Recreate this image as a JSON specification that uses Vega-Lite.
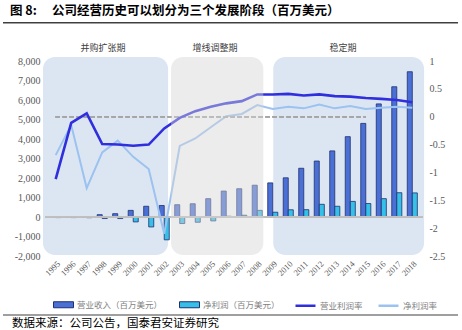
{
  "$schema": "https://vega.github.io/schema/vega-lite/v6.json",
  "width": 378,
  "height": 195,
  "autosize": {"type": "none"},
  "padding": {"left": 45, "top": 61, "right": 39, "bottom": 74},
  "background": "white",
  "title": {"text": "图 8:　 公司经营历史可以划分为三个发展阶段（百万美元）", "anchor": "start", "frame": "group", "dx": -35, "offset": 5, "font": "Noto Sans CJK SC", "fontSize": 12.5, "fontWeight": "bold", "color": "#000000"},
  "config": {
    "locale": {"number": {"decimal": ".", "thousands": ",", "grouping": [3], "currency": ["$", ""], "minus": "-"}},
    "view": {"stroke": null},
    "axis": {"grid": false, "ticks": false, "domain": false, "labelFont": "Liberation Serif", "labelColor": "#595959", "labelFontSize": 10, "title": null}
  },
  "datasets": {
    "phases": [
      {"phase": "并购扩张期", "kind": "blue", "start": 1994.18, "end": 2002.25, "mid": 1998.05},
      {"phase": "增线调整期", "kind": "gray", "start": 2002.44, "end": 2008.39, "mid": 2005.27},
      {"phase": "稳定期", "kind": "blue", "start": 2009.03, "end": 2018.76, "mid": 2013.53}
    ],
    "bars": [
      {"year": "1995", "series": "营业收入（百万美元）", "value": 20}, {"year": "1995", "series": "净利润（百万美元）", "value": -30},
      {"year": "1996", "series": "营业收入（百万美元）", "value": 25}, {"year": "1996", "series": "净利润（百万美元）", "value": -30},
      {"year": "1997", "series": "营业收入（百万美元）", "value": 25}, {"year": "1997", "series": "净利润（百万美元）", "value": -35},
      {"year": "1998", "series": "营业收入（百万美元）", "value": 120}, {"year": "1998", "series": "净利润（百万美元）", "value": -80},
      {"year": "1999", "series": "营业收入（百万美元）", "value": 170}, {"year": "1999", "series": "净利润（百万美元）", "value": -80},
      {"year": "2000", "series": "营业收入（百万美元）", "value": 340}, {"year": "2000", "series": "净利润（百万美元）", "value": -250},
      {"year": "2001", "series": "营业收入（百万美元）", "value": 550}, {"year": "2001", "series": "净利润（百万美元）", "value": -510},
      {"year": "2002", "series": "营业收入（百万美元）", "value": 590}, {"year": "2002", "series": "净利润（百万美元）", "value": -1170},
      {"year": "2003", "series": "营业收入（百万美元）", "value": 630}, {"year": "2003", "series": "净利润（百万美元）", "value": -335},
      {"year": "2004", "series": "营业收入（百万美元）", "value": 680}, {"year": "2004", "series": "净利润（百万美元）", "value": -270},
      {"year": "2005", "series": "营业收入（百万美元）", "value": 940}, {"year": "2005", "series": "净利润（百万美元）", "value": -200},
      {"year": "2006", "series": "营业收入（百万美元）", "value": 1330}, {"year": "2006", "series": "净利润（百万美元）", "value": 40},
      {"year": "2007", "series": "营业收入（百万美元）", "value": 1450}, {"year": "2007", "series": "净利润（百万美元）", "value": 90},
      {"year": "2008", "series": "营业收入（百万美元）", "value": 1630}, {"year": "2008", "series": "净利润（百万美元）", "value": 340},
      {"year": "2009", "series": "营业收入（百万美元）", "value": 1750}, {"year": "2009", "series": "净利润（百万美元）", "value": 245},
      {"year": "2010", "series": "营业收入（百万美元）", "value": 2010}, {"year": "2010", "series": "净利润（百万美元）", "value": 370},
      {"year": "2011", "series": "营业收入（百万美元）", "value": 2500}, {"year": "2011", "series": "净利润（百万美元）", "value": 376},
      {"year": "2012", "series": "营业收入（百万美元）", "value": 2870}, {"year": "2012", "series": "净利润（百万美元）", "value": 650},
      {"year": "2013", "series": "营业收入（百万美元）", "value": 3390}, {"year": "2013", "series": "净利润（百万美元）", "value": 550},
      {"year": "2014", "series": "营业收入（百万美元）", "value": 4120}, {"year": "2014", "series": "净利润（百万美元）", "value": 800},
      {"year": "2015", "series": "营业收入（百万美元）", "value": 4800}, {"year": "2015", "series": "净利润（百万美元）", "value": 690},
      {"year": "2016", "series": "营业收入（百万美元）", "value": 5800}, {"year": "2016", "series": "净利润（百万美元）", "value": 940},
      {"year": "2017", "series": "营业收入（百万美元）", "value": 6680}, {"year": "2017", "series": "净利润（百万美元）", "value": 1245},
      {"year": "2018", "series": "营业收入（百万美元）", "value": 7450}, {"year": "2018", "series": "净利润（百万美元）", "value": 1235}
    ],
    "margins": [
      {"year": "1995", "series": "营业利润率", "value": -1.12}, {"year": "1995", "series": "净利润率", "value": -0.69},
      {"year": "1996", "series": "营业利润率", "value": -0.11}, {"year": "1996", "series": "净利润率", "value": -0.15},
      {"year": "1997", "series": "营业利润率", "value": 0.06}, {"year": "1997", "series": "净利润率", "value": -1.28},
      {"year": "1998", "series": "营业利润率", "value": -0.49}, {"year": "1998", "series": "净利润率", "value": -0.64},
      {"year": "1999", "series": "营业利润率", "value": -0.5}, {"year": "1999", "series": "净利润率", "value": -0.43},
      {"year": "2000", "series": "营业利润率", "value": -0.52}, {"year": "2000", "series": "净利润率", "value": -0.72},
      {"year": "2001", "series": "营业利润率", "value": -0.5}, {"year": "2001", "series": "净利润率", "value": -0.94},
      {"year": "2002", "series": "营业利润率", "value": -0.21}, {"year": "2002", "series": "净利润率", "value": -2.1},
      {"year": "2003", "series": "营业利润率", "value": -0.02}, {"year": "2003", "series": "净利润率", "value": -0.525},
      {"year": "2004", "series": "营业利润率", "value": 0.1}, {"year": "2004", "series": "净利润率", "value": -0.39},
      {"year": "2005", "series": "营业利润率", "value": 0.18}, {"year": "2005", "series": "净利润率", "value": -0.19},
      {"year": "2006", "series": "营业利润率", "value": 0.24}, {"year": "2006", "series": "净利润率", "value": 0.01},
      {"year": "2007", "series": "营业利润率", "value": 0.28}, {"year": "2007", "series": "净利润率", "value": 0.05},
      {"year": "2008", "series": "营业利润率", "value": 0.4}, {"year": "2008", "series": "净利润率", "value": 0.21},
      {"year": "2009", "series": "营业利润率", "value": 0.4}, {"year": "2009", "series": "净利润率", "value": 0.14},
      {"year": "2010", "series": "营业利润率", "value": 0.41}, {"year": "2010", "series": "净利润率", "value": 0.18},
      {"year": "2011", "series": "营业利润率", "value": 0.38}, {"year": "2011", "series": "净利润率", "value": 0.15},
      {"year": "2012", "series": "营业利润率", "value": 0.4}, {"year": "2012", "series": "净利润率", "value": 0.22},
      {"year": "2013", "series": "营业利润率", "value": 0.37}, {"year": "2013", "series": "净利润率", "value": 0.15},
      {"year": "2014", "series": "营业利润率", "value": 0.36}, {"year": "2014", "series": "净利润率", "value": 0.19},
      {"year": "2015", "series": "营业利润率", "value": 0.335}, {"year": "2015", "series": "净利润率", "value": 0.14},
      {"year": "2016", "series": "营业利润率", "value": 0.32}, {"year": "2016", "series": "净利润率", "value": 0.16},
      {"year": "2017", "series": "营业利润率", "value": 0.3}, {"year": "2017", "series": "净利润率", "value": 0.18},
      {"year": "2018", "series": "营业利润率", "value": 0.26}, {"year": "2018", "series": "净利润率", "value": 0.16}
    ]
  },
  "layer": [
    {
      "data": {"name": "phases"},
      "layer": [
        {
          "transform": [{"filter": "datum.kind === 'blue'"}],
          "mark": {"type": "rect", "cornerRadius": 12, "color": "#DCE6F2"},
          "encoding": {
            "x": {"field": "start", "type": "quantitative", "scale": {"domain": [1994.31, 2018.69], "nice": false, "zero": false}, "axis": null},
            "x2": {"field": "end"},
            "y": {"datum": 0.005, "type": "quantitative", "scale": {"domain": [0, 1], "nice": false, "zero": false}, "axis": null},
            "y2": {"datum": 1.02}
          }
        },
        {
          "mark": {"type": "text", "font": "Noto Sans CJK SC", "fontSize": 9, "color": "#404040", "baseline": "middle"},
          "encoding": {
            "x": {"field": "mid", "type": "quantitative", "scale": {"domain": [1994.31, 2018.69], "nice": false, "zero": false}, "axis": null},
            "y": {"datum": 1.065, "type": "quantitative", "scale": {"domain": [0, 1], "nice": false, "zero": false}, "axis": null},
            "text": {"field": "phase"}
          }
        }
      ]
    },
    {
      "data": {"name": "bars"},
      "layer": [
        {
          "mark": {"type": "bar", "stroke": "#1F2F6F", "strokeWidth": 0.8},
          "encoding": {
            "x": {"field": "year", "type": "ordinal", "scale": {"paddingInner": 0.35, "paddingOuter": 0.365},
                  "axis": {"orient": "bottom", "labelAngle": -45, "labelAlign": "right", "labelBaseline": "top", "labelPadding": 3, "labelFontSize": 8.5}},
            "xOffset": {"field": "series", "sort": ["营业收入（百万美元）", "净利润（百万美元）"]},
            "y": {"field": "value", "type": "quantitative", "scale": {"domain": [-2000, 8000], "nice": false},
                  "axis": {"orient": "left", "tickCount": 10, "format": ",.0f", "labelPadding": 5, "labelOverlap": false}},
            "fill": {"field": "series", "type": "nominal",
                     "scale": {"domain": ["营业收入（百万美元）", "净利润（百万美元）"], "range": ["#4A70D6", "#36C0E8"]},
                     "legend": {"orient": "none", "legendX": 8, "legendY": 233, "direction": "horizontal", "title": null,
                                "symbolType": "M-1,-0.3L1,-0.3L1,0.3L-1,0.3Z", "symbolSize": 400, "symbolStrokeColor": "#1F2F6F", "symbolStrokeWidth": 1,
                                "labelFont": "Noto Sans CJK SC", "labelFontSize": 8.5, "labelColor": "#7F7F7F", "columnPadding": 14, "labelOffset": 3}}
          }
        },
        {
          "mark": {"type": "rule", "color": "#BFBFBF", "strokeWidth": 0.8},
          "encoding": {"y": {"datum": 0, "type": "quantitative"}}
        }
      ]
    },
    {
      "data": {"name": "margins"},
      "layer": [
        {
          "transform": [{"filter": "datum.series === '净利润率'"}],
          "mark": {"type": "line", "strokeWidth": 2},
          "encoding": {
            "x": {"field": "year", "type": "ordinal", "scale": {"paddingInner": 0.35, "paddingOuter": 0.365}, "axis": null},
            "y": {"field": "value", "type": "quantitative", "scale": {"domain": [-2.5, 1], "nice": false},
                  "axis": {"orient": "right", "tickCount": 7, "format": "~g", "labelPadding": 6, "labelOverlap": false}},
            "stroke": {"field": "series", "type": "nominal",
                       "scale": {"domain": ["营业利润率", "净利润率"], "range": ["#2F2FDE", "#9CC2F0"]},
                       "legend": {"orient": "none", "legendX": 249, "legendY": 233, "direction": "horizontal", "title": null,
                                  "symbolType": "stroke", "symbolSize": 400, "symbolStrokeWidth": 2.5,
                                  "labelFont": "Noto Sans CJK SC", "labelFontSize": 8.5, "labelColor": "#7F7F7F", "columnPadding": 10, "labelOffset": 3}}
          }
        },
        {
          "mark": {"type": "rule", "color": "#A6A6A6", "strokeDash": [4, 3], "strokeWidth": 1},
          "encoding": {
            "x": {"datum": "1995", "type": "ordinal"},
            "x2": {"datum": "2015"},
            "y": {"datum": 0, "type": "quantitative"}
          }
        },
        {
          "transform": [{"filter": "datum.series === '营业利润率'"}],
          "mark": {"type": "line", "strokeWidth": 2.6},
          "encoding": {
            "x": {"field": "year", "type": "ordinal"},
            "y": {"field": "value", "type": "quantitative"},
            "stroke": {"field": "series", "type": "nominal"}
          }
        }
      ]
    },
    {
      "data": {"name": "phases"},
      "transform": [{"filter": "datum.kind === 'gray'"}],
      "mark": {"type": "rect", "cornerRadius": 12, "color": "#D4D4D4", "fillOpacity": 0.45},
      "encoding": {
        "x": {"field": "start", "type": "quantitative", "scale": {"domain": [1994.31, 2018.69], "nice": false, "zero": false}, "axis": null},
        "x2": {"field": "end"},
        "y": {"datum": 0.005, "type": "quantitative", "scale": {"domain": [0, 1], "nice": false, "zero": false}, "axis": null},
        "y2": {"datum": 1.02}
      }
    },
    {
      "data": {"values": [{"note": "数据来源：公司公告，国泰君安证券研究"}]},
      "layer": [
        {
          "mark": {"type": "rule", "color": "#404040", "strokeWidth": 1.5},
          "encoding": {
            "x": {"datum": 1991.6, "type": "quantitative", "scale": {"domain": [1994.31, 2018.69], "nice": false, "zero": false}, "axis": null},
            "x2": {"datum": 2020.95},
            "y": {"datum": 1.196, "type": "quantitative", "scale": {"domain": [0, 1], "nice": false, "zero": false}, "axis": null}
          }
        },
        {
          "mark": {"type": "rule", "color": "#404040", "strokeWidth": 1.2},
          "encoding": {"x": {"datum": 1991.6, "type": "quantitative"}, "x2": {"datum": 2020.95}, "y": {"datum": -0.3026, "type": "quantitative"}}
        },
        {
          "mark": {"type": "text", "align": "left", "baseline": "middle", "font": "Noto Sans CJK SC", "fontSize": 11.5, "color": "#000000"},
          "encoding": {"x": {"datum": 1992.18, "type": "quantitative"}, "y": {"datum": -0.349, "type": "quantitative"}, "text": {"field": "note"}}
        }
      ]
    }
  ],
  "resolve": {"scale": {"x": "independent", "y": "independent"}}
}
